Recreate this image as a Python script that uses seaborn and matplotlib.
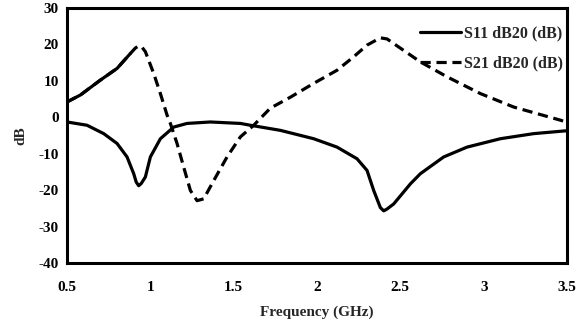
import matplotlib
matplotlib.use("Agg")
import matplotlib.pyplot as plt
import seaborn as sns
import pandas as pd

# ---- data ----
freq_s11 = [0.50, 0.62, 0.72, 0.80, 0.86, 0.90, 0.915, 0.93, 0.945, 0.97, 1.00,
            1.06, 1.14, 1.22, 1.36, 1.54, 1.60, 1.78, 1.98, 2.12, 2.24, 2.30,
            2.34, 2.38, 2.40, 2.42, 2.46, 2.56, 2.62, 2.76, 2.90, 3.10, 3.30, 3.50]
s11_db = [-1.3, -2.2, -4.5, -7.2, -10.9, -15.5, -17.8, -18.8, -18.2, -16.4, -10.9,
          -5.9, -2.7, -1.7, -1.3, -1.7, -2.2, -3.6, -5.9, -8.2, -11.4, -14.6,
          -20.1, -24.8, -25.7, -25.2, -23.8, -18.3, -15.5, -10.9, -8.2, -5.9, -4.5, -3.7]

freq_s21 = [0.50, 0.58, 0.70, 0.80, 0.88, 0.91, 0.93, 0.95, 0.97, 1.02, 1.06, 1.10,
            1.12, 1.16, 1.20, 1.24, 1.28, 1.32, 1.38, 1.46, 1.54, 1.62, 1.72, 1.84,
            1.98, 2.12, 2.22, 2.30, 2.38, 2.42, 2.48, 2.62, 2.78, 2.98, 3.18, 3.46, 3.50]
s21_db = [4.2, 6.1, 10.2, 13.4, 17.5, 19.0, 19.6, 19.2, 18.0, 12.0, 6.5, 0.6,
          -1.7, -7.2, -13.7, -20.1, -22.9, -22.4, -17.4, -10.9, -5.4, -2.2, 2.5, 5.5,
          9.3, 12.9, 16.6, 19.8, 21.8, 21.5, 19.6, 15.2, 11.1, 6.5, 2.8, -0.8, -1.4]

labels = ["S11 dB20 (dB)", "S21 dB20 (dB)"]
x_ticks = [0.5, 1, 1.5, 2, 2.5, 3, 3.5]
x_ticklabels = ["0.5", "1", "1.5", "2", "2.5", "3", "3.5"]
y_ticks = [-40, -30, -20, -10, 0, 10, 20, 30]

df11 = pd.DataFrame({"Frequency": freq_s11, "dB": s11_db})
df21 = pd.DataFrame({"Frequency": freq_s21, "dB": s21_db})

sns.set_style("white")
plt.rcParams["font.family"] = ["Liberation Serif", "DejaVu Serif"]
plt.rcParams["font.weight"] = "bold"
plt.rcParams["axes.labelweight"] = "bold"
plt.rcParams["axes.unicode_minus"] = False

fig = plt.figure(figsize=(5.78, 3.32), dpi=100)
ax = fig.add_axes([0.116, 0.208, 0.865, 0.768])

sns.lineplot(data=df11, x="Frequency", y="dB", ax=ax, color="black",
             linewidth=2.3, label=labels[0], sort=False)
sns.lineplot(data=df21, x="Frequency", y="dB", ax=ax, color="black",
             linewidth=2.3, linestyle=(0, (3.2, 1.8)), label=labels[1], sort=False)
# first part of the S21 trace appears continuous in the reference
df21_start = df21[df21["Frequency"] <= 0.88]
sns.lineplot(data=df21_start, x="Frequency", y="dB", ax=ax, color="black",
             linewidth=2.3, sort=False, legend=False)

ax.set_xlim(0.5, 3.5)
ax.set_ylim(-40, 30)
ax.set_xticks(x_ticks)
ax.set_xticklabels(x_ticklabels)
ax.set_yticks(y_ticks)
ax.tick_params(axis="both", direction="out", length=3, width=2, labelsize=11,
               colors="black")
ax.tick_params(axis="x", pad=10)
ax.tick_params(axis="y", pad=3)
for lab in ax.get_xticklabels() + ax.get_yticklabels():
    lab.set_fontweight("bold")

for s in ax.spines.values():
    s.set_visible(True)
    s.set_linewidth(2.2)
    s.set_color("black")

ax.set_xlabel("Frequency (GHz)", fontsize=11, fontweight="bold", labelpad=8)
ax.set_ylabel("dB", fontsize=11, fontweight="bold", labelpad=8)

leg = ax.legend(loc="upper left", bbox_to_anchor=(0.705, 0.93), frameon=False,
                fontsize=11.5, handlelength=2.6, handletextpad=0.2,
                labelspacing=0.88, borderpad=0, borderaxespad=0)
for t in leg.get_texts():
    t.set_fontweight("bold")

fig.savefig("out.png", dpi=100)
